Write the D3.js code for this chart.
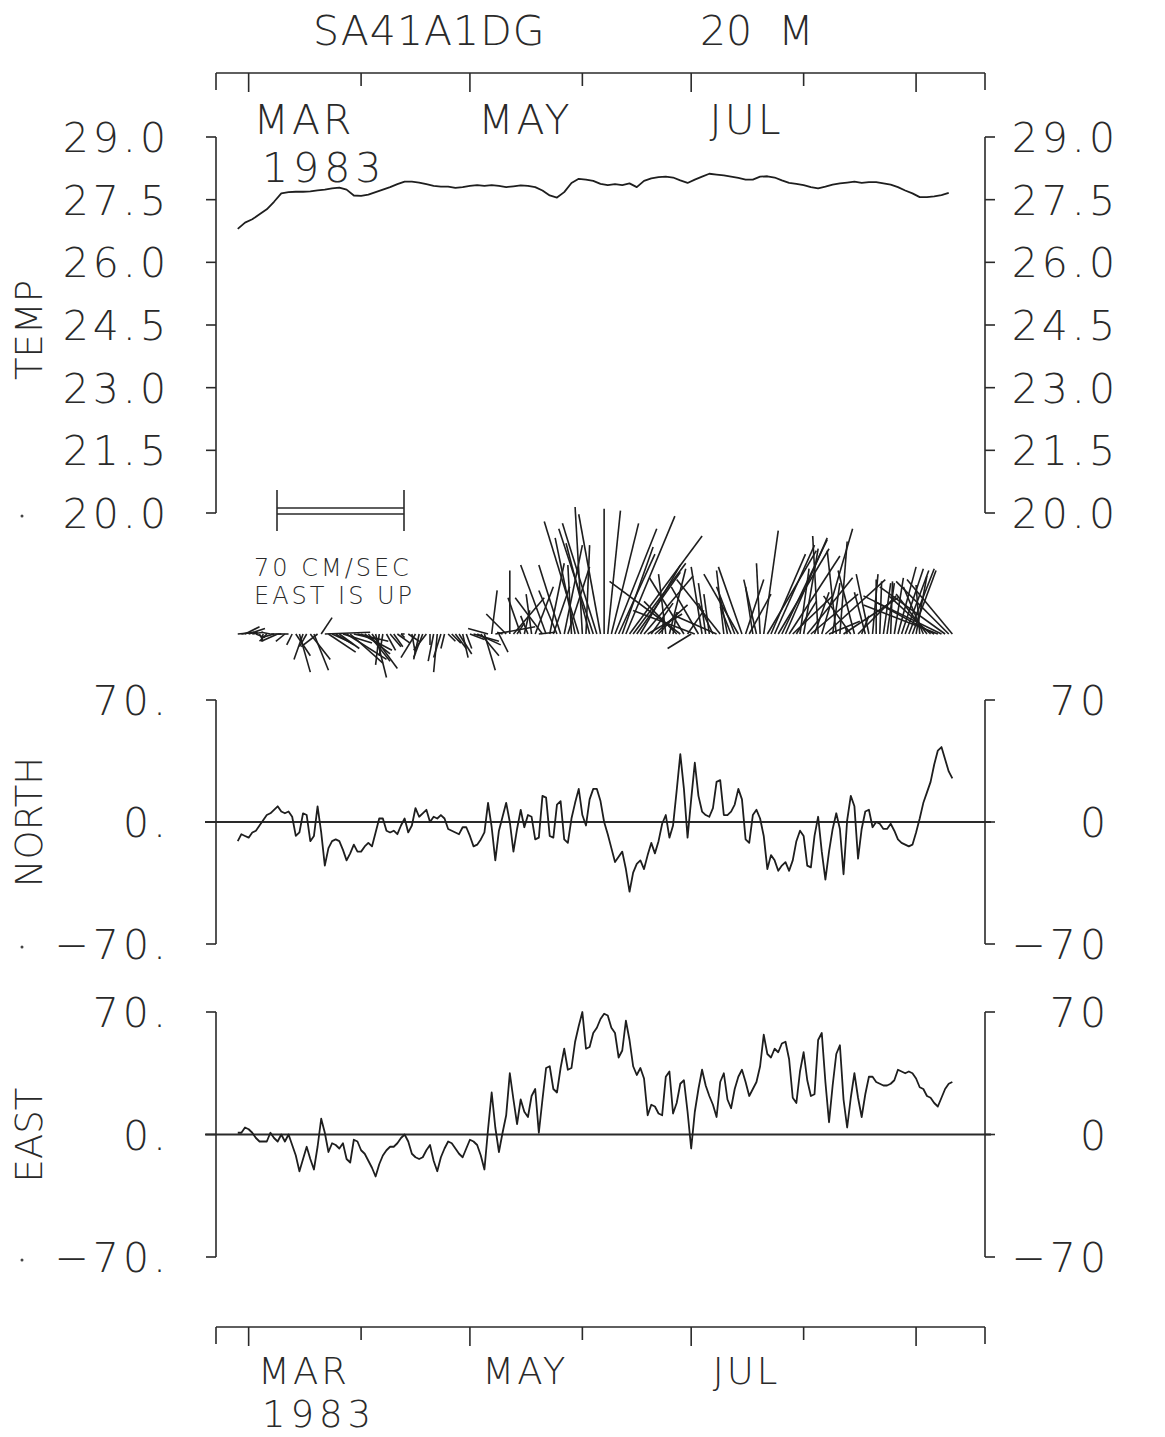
<!DOCTYPE html>
<html lang="en">
<head>
<meta charset="UTF-8">
<title>SA41A1DG 20 M</title>
<script src="https://cdnjs.cloudflare.com/ajax/libs/d3/7.8.5/d3.min.js"></script>
<style>
  body { margin: 0; background: #fff; }
  text { font-family: "DejaVu Sans", sans-serif; font-weight: 200; fill: #2a2a2a; }
  .ax { stroke: #2a2a2a; stroke-width: 1.6px; fill: none; }
  .ln { stroke: #1e1e1e; stroke-width: 1.8px; fill: none; stroke-linejoin: round; }
</style>
</head>
<body>
<svg id="chart" width="1165" height="1437"></svg>
<script>
// daily values from 26 Feb 1983
const firstDay = new Date(1983, 1, 26);

const north = [
  -11,-7,-8,-9,-6,-5,-2,1,4,5,
  7,9,6,5,6,3,-8,-6,5,4,
  -11,-8,9,-6,-25,-15,-11,-10,-11,-16,
  -22,-18,-13,-17,-17,-14,-12,-14,-6,2,
  2,-5,-6,-5,-7,-2,2,-6,-2,8,
  3,5,7,0,3,2,4,2,-4,-5,
  -6,-7,-3,-3,-8,-14,-13,-10,-6,11,
  -3,-22,-5,3,11,0,-17,-4,7,-3,
  4,3,-10,-9,15,14,-8,-9,10,12,
  -10,-12,2,11,19,4,-2,13,19,19,
  12,0,-7,-15,-23,-20,-17,-27,-40,-29,
  -24,-22,-27,-19,-12,-18,-11,-1,4,-9,
  -2,18,39,19,-9,13,34,15,6,4,
  3,8,23,24,4,4,6,10,19,13,
  -10,-12,4,7,2,-8,-27,-19,-22,-28,
  -25,-23,-28,-22,-11,-5,-8,-25,-26,-8,
  3,-17,-33,-17,-4,5,-4,-30,1,15,
  9,-21,-4,6,7,-3,0,-1,-4,-4,
  -1,-5,-10,-12,-13,-14,-13,-6,2,11,
  17,23,33,41,43,36,29,25
];

const east = [
  1,1,4,3,1,-2,-4,-4,-4,1,
  -2,-4,0,-4,0,-6,-12,-21,-14,-7,
  -14,-20,-7,9,1,-10,-5,-6,-8,-5,
  -14,-16,-3,-4,-9,-11,-15,-19,-24,-17,
  -12,-9,-7,-7,-5,-2,0,-4,-11,-13,
  -14,-13,-9,-6,-15,-21,-13,-8,-4,-5,
  -8,-11,-13,-8,-3,-4,-6,-12,-20,3,
  24,4,-10,1,11,35,20,6,20,13,
  10,22,26,1,20,38,39,26,24,38,
  49,37,38,53,62,70,49,50,58,61,
  66,69,68,61,58,44,48,65,54,39,
  34,38,32,11,17,16,12,11,33,36,
  12,18,29,31,13,-8,13,26,37,28,
  22,17,10,30,35,20,15,26,33,37,
  30,22,26,30,39,57,46,44,49,47,
  52,53,43,21,18,36,47,31,22,23,
  54,58,30,7,28,46,51,20,4,21,
  35,21,10,23,33,33,30,29,28,28,
  29,31,37,36,35,36,35,32,27,26,
  22,21,18,16,21,26,29,30
];

// temperature every 2 days from 26 Feb
const tempStep = 2;
const temp = [
  26.80,26.95,27.03,27.15,27.27,27.45,27.65,27.68,27.69,27.69,
  27.70,27.72,27.74,27.77,27.79,27.74,27.60,27.59,27.62,27.68,
  27.74,27.80,27.87,27.93,27.93,27.91,27.87,27.83,27.81,27.81,
  27.78,27.80,27.83,27.85,27.83,27.85,27.83,27.80,27.82,27.84,
  27.83,27.80,27.72,27.60,27.55,27.68,27.90,28.00,27.98,27.95,
  27.88,27.85,27.87,27.85,27.89,27.80,27.95,28.01,28.04,28.05,
  28.03,27.96,27.90,27.98,28.05,28.12,28.10,28.08,28.05,28.02,
  27.98,27.98,28.05,28.06,28.03,27.96,27.90,27.88,27.85,27.80,
  27.77,27.81,27.86,27.89,27.91,27.93,27.90,27.92,27.92,27.89,
  27.86,27.80,27.72,27.65,27.56,27.56,27.58,27.61,27.66
];

const tempTicks = [29.0, 27.5, 26.0, 24.5, 23.0, 21.5, 20.0];
const velTicks = [70, 0, -70];
const monthLabels = ["MAR", "MAY", "JUL"];
const monthLabelDates = [new Date(1983, 2, 16), new Date(1983, 4, 16), new Date(1983, 6, 16)];

const svg = d3.select("#chart");

const x = d3.scaleTime()
  .domain([new Date(1983, 1, 20), new Date(1983, 8, 20)])
  .range([216, 985]);

const dayOf = (start, i, step) => d3.timeDay.offset(start, i * step);

const yTemp = d3.scaleLinear().domain([20, 29]).range([513, 137]);
const yNorth = d3.scaleLinear().domain([-70, 70]).range([944, 700]);
const yEast = d3.scaleLinear().domain([-70, 70]).range([1257, 1012]);
const stickLen = d3.scaleLinear().domain([0, 70]).range([0, 127]);
const stickBase = 634;
const numSpacing = 4;

// title
svg.append("text").attr("x", 313).attr("y", 45).attr("font-size", 41).attr("letter-spacing", 1).text("SA41A1DG");
svg.append("text").attr("x", 700).attr("y", 45).attr("font-size", 41).attr("xml:space", "preserve").text("20  M");

// time axes (top and bottom)
function timeAxis(y0, labelY, yearGap, fs) {
  const g = svg.append("g");
  g.append("line").attr("class", "ax").attr("x1", 216).attr("x2", 985).attr("y1", y0).attr("y2", y0);
  [216, 985].forEach(v => g.append("line").attr("class", "ax")
    .attr("x1", v).attr("x2", v).attr("y1", y0).attr("y2", y0 + 17));
  const months = d3.timeMonth.range(new Date(1983, 2, 1), new Date(1983, 8, 2));
  g.selectAll(".mt").data(months).join("line")
    .attr("class", "ax")
    .attr("x1", d => x(d)).attr("x2", d => x(d))
    .attr("y1", y0)
    .attr("y2", d => y0 + (d.getMonth() % 2 === 0 ? 19 : 13));
  g.selectAll(".ml").data(monthLabels).join("text")
    .attr("x", (d, i) => x(monthLabelDates[i]) + 1)
    .attr("y", labelY)
    .attr("text-anchor", "middle")
    .attr("font-size", fs)
    .attr("letter-spacing", 3)
    .text(d => d);
  g.append("text").attr("x", 262).attr("y", labelY + yearGap)
    .attr("font-size", fs).attr("letter-spacing", 5).text("1983");
}
timeAxis(73, 134, 48, 41);
timeAxis(1327, 1384, 43, 37);

// vertical axis with outward ticks on both sides
function sideAxes(y, ticks, leftFmt, rightFmt, rightX) {
  const g = svg.append("g");
  const [a, b] = y.range();
  [216, 985].forEach(v => g.append("line").attr("class", "ax")
    .attr("x1", v).attr("x2", v).attr("y1", a).attr("y2", b));
  g.selectAll(".tl").data(ticks).join("line").attr("class", "ax")
    .attr("x1", 206).attr("x2", 216).attr("y1", d => y(d)).attr("y2", d => y(d));
  g.selectAll(".tr").data(ticks).join("line").attr("class", "ax")
    .attr("x1", 985).attr("x2", 995).attr("y1", d => y(d)).attr("y2", d => y(d));
  g.selectAll(".ll").data(ticks).join("text")
    .attr("x", 166 + numSpacing).attr("y", d => y(d) + 15)
    .attr("text-anchor", "end").attr("font-size", 41)
    .attr("letter-spacing", numSpacing)
    .text(leftFmt);
  g.selectAll(".lr").data(ticks).join("text")
    .attr("x", rightX + numSpacing).attr("y", d => y(d) + 15)
    .attr("text-anchor", "end").attr("font-size", 41)
    .attr("letter-spacing", numSpacing)
    .text(rightFmt);
  g.append("circle").attr("cx", 22).attr("cy", y(ticks[ticks.length - 1]) + 3).attr("r", 1.5).attr("fill", "#444");
}
const f1 = d3.format(".1f");
const velLeft = d => (d < 0 ? "\u2212" : "") + Math.abs(d) + ".";
const velRight = d => (d < 0 ? "\u2212" : "") + Math.abs(d);
sideAxes(yTemp, tempTicks, f1, f1, 1115);
sideAxes(yNorth, velTicks, velLeft, velRight, 1106);
sideAxes(yEast, velTicks, velLeft, velRight, 1106);

// zero lines
[yNorth, yEast].forEach(y => svg.append("line").attr("class", "ax").style("stroke-width", 2)
  .attr("x1", 205).attr("x2", 991).attr("y1", y(0)).attr("y2", y(0)));

// y titles
[["TEMP", 330], ["NORTH", 822], ["EAST", 1135]].forEach(([t, cy]) =>
  svg.append("text").attr("transform", `translate(42,${cy}) rotate(-90)`)
    .attr("text-anchor", "middle").attr("font-size", 37).text(t));

// temperature
svg.append("path").attr("class", "ln")
  .datum(temp)
  .attr("d", d3.line().x((d, i) => x(dayOf(firstDay, i, tempStep))).y(d => yTemp(d)));

// north and east
svg.append("path").attr("class", "ln").datum(north)
  .attr("d", d3.line().x((d, i) => x(dayOf(firstDay, i, 1))).y(d => yNorth(d)));
svg.append("path").attr("class", "ln").datum(east)
  .attr("d", d3.line().x((d, i) => x(dayOf(firstDay, i, 1))).y(d => yEast(d)));

// stick vectors, east is up (north points left)
svg.append("g").selectAll("line").data(north).join("line")
  .attr("stroke", "#1e1e1e").attr("stroke-width", 1.6)
  .attr("x1", (d, i) => x(dayOf(firstDay, i, 1)))
  .attr("y1", stickBase)
  .attr("x2", (d, i) => x(dayOf(firstDay, i, 1)) - stickLen(d))
  .attr("y2", (d, i) => stickBase - stickLen(east[i]));

// scale bar
const sb = svg.append("g");
const sbX0 = 277, sbX1 = sbX0 + stickLen(70);
[508, 514].forEach(v => sb.append("line").attr("class", "ax").style("stroke-width", 1.3)
  .attr("x1", sbX0).attr("x2", sbX1).attr("y1", v).attr("y2", v));
[sbX0, sbX1].forEach(v => sb.append("line").attr("class", "ax")
  .attr("x1", v).attr("x2", v).attr("y1", 490).attr("y2", 531));
sb.append("text").attr("x", 254).attr("y", 576).attr("font-size", 24).attr("letter-spacing", 3).text("70 CM/SEC");
sb.append("text").attr("x", 254).attr("y", 604).attr("font-size", 24).attr("letter-spacing", 3).text("EAST IS UP");
</script>
</body>
</html>
